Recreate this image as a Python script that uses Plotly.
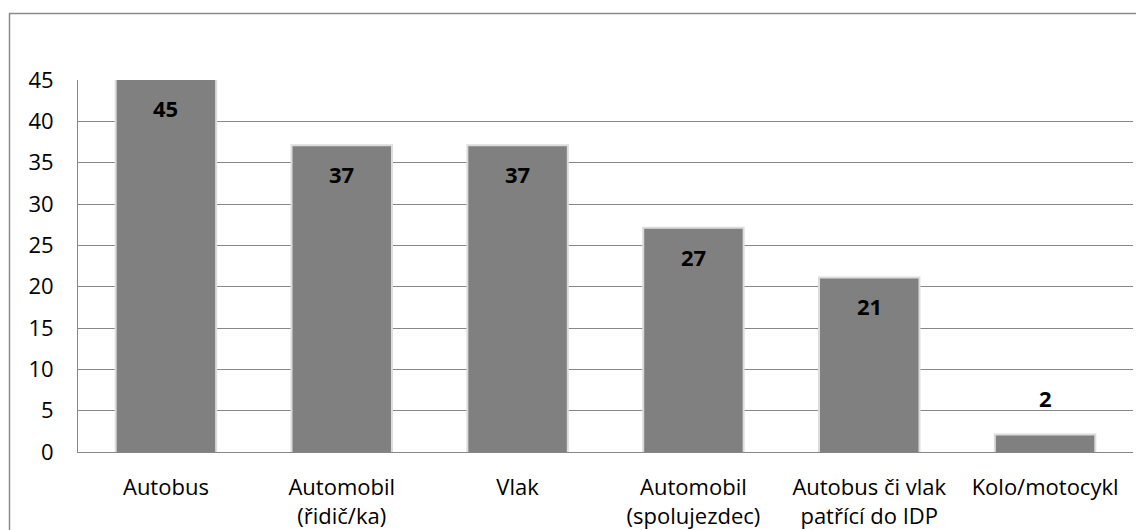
import plotly.graph_objects as go

# Transport mode counts
categories = [
    "Autobus",
    "Automobil<br>(řidič/ka)",
    "Vlak",
    "Automobil<br>(spolujezdec)",
    "Autobus či vlak<br>patřící do IDP",
    "Kolo/motocykl",
]
values = [45, 37, 37, 27, 21, 2]
y_ticks = [0, 5, 10, 15, 20, 25, 30, 35, 40, 45]

W, H = 1136, 530
M_L, M_R, M_T, M_B = 78, 3, 80, 78
FONT = "Open Sans"
FS = 22
BAR_W = 0.56
BAR_COLOR = "#808080"
GRID = "#878787"

fig = go.Figure()

# soft halo behind each bar
fig.add_trace(go.Bar(
    x=categories, y=values, width=BAR_W,
    marker=dict(color=BAR_COLOR, line=dict(color="#dcdcdc", width=4)),
    hoverinfo="skip", showlegend=False,
))
# main bars
fig.add_trace(go.Bar(
    x=categories, y=values, width=BAR_W,
    marker=dict(color=BAR_COLOR, line=dict(width=0)),
    showlegend=False,
))

# value labels: inside near the top, or above when the bar is too short
for c, v in zip(categories, values):
    inside = v >= 5
    fig.add_annotation(
        x=c, y=v, xref="x", yref="y",
        text=f"<b>{v}</b>", showarrow=False,
        yanchor="middle", yshift=-28 if inside else 37,
        font=dict(family=FONT, size=FS, color="#000000"),
    )

pw = W - M_L - M_R
ph = H - M_T - M_B
# outer chart border (runs off the right and bottom edges)
fig.add_shape(
    type="rect", xref="paper", yref="paper",
    x0=(9.5 - M_L) / pw, x1=(W + 10 - M_L) / pw,
    y0=-(M_B + 10) / ph, y1=1 + (M_T - 13.5) / ph,
    line=dict(color="#8a8a8a", width=1.5), fillcolor="rgba(0,0,0,0)",
    layer="above",
)

fig.update_layout(
    width=W, height=H,
    margin=dict(l=M_L, r=M_R, t=M_T, b=M_B, autoexpand=False),
    paper_bgcolor="white", plot_bgcolor="white",
    barmode="overlay",
    font=dict(family=FONT, size=FS, color="#000000"),
    xaxis=dict(
        showgrid=False, showline=True, linecolor=GRID, linewidth=1,
        ticks="", tickfont=dict(size=FS), ticklabelstandoff=16,
        automargin=False,
    ),
    yaxis=dict(
        range=[0, 45], tickvals=y_ticks, showgrid=True, gridcolor=GRID,
        gridwidth=1, showline=True, linecolor=GRID, linewidth=1,
        zeroline=False, ticks="", ticklabelstandoff=19,
        tickfont=dict(size=FS), automargin=False,
    ),
)

fig.write_html("out.html")
